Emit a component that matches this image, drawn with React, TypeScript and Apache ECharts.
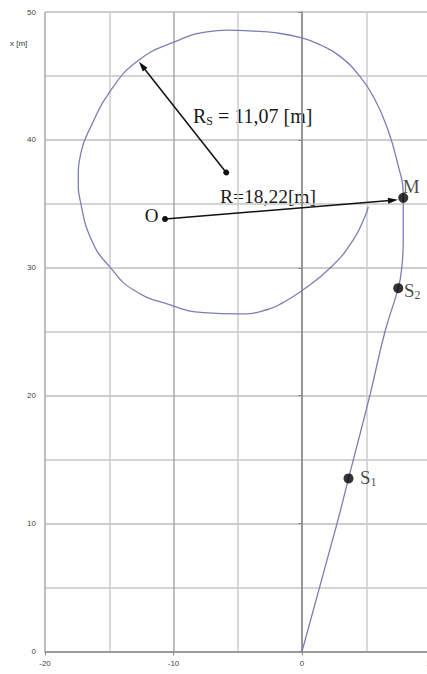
import React, { useEffect, useRef } from 'react';
import * as echarts from 'echarts';

// Trajectory (horizontal in [m], vertical "x [m]")
const pathX = [0, 2.75, 3.62, 5.29, 6.46, 7.49, 7.76, 7.88, 7.88, 7.37, 6.59, 5.68, 4.51, 2.96, 1.4, 0, -1.95, -4.05, -5.8, -7.4, -9.88, -12.74, -14.94, -16.35, -17.2, -17.41, -17.22, -16.3, -14.94, -13.13, -10.27, -7.68, -4.82, -2.75, -1.45, -0.16, 2.31, 3.99, 4.9, 5.16];
const pathY = [0, 10.1, 13.53, 20.06, 25.02, 28.41, 29.98, 32.19, 35.47, 38.45, 41.05, 43.14, 44.96, 46.53, 47.44, 47.97, 48.36, 48.52, 48.58, 48.45, 47.68, 46.2, 43.8, 41.2, 39.0, 36.9, 35.06, 32.0, 30.05, 28.28, 27.1, 26.5, 26.4, 26.72, 27.3, 28.1, 30.1, 32.19, 34.01, 34.79];

const markerNames = ['S1', 'S2', 'M'];
const markerX = [3.62, 7.49, 7.88];
const markerY = [13.53, 28.41, 35.47];

const originPoint = [-10.66, 33.81];
const radiusArrowEnd = [7.08, 35.28];
const centerPoint = [-5.9, 37.45];
const rsArrowEnd = [-12.45, 45.8];

const xMin = -20;
const xMax = 10;
const yMin = 0;
const yMax = 50;
const tickStep = 10;

const serif = "'Liberation Serif', 'Times New Roman', serif";
const sans = "'Liberation Sans', Arial, sans-serif";

export default function App() {
  const ref = useRef<HTMLDivElement>(null);
  useEffect(() => {
    if (!ref.current) return;
    const chart = echarts.init(ref.current, undefined, { renderer: 'svg' });
    const labelRich = {
      b: { fontSize: 19, fontFamily: serif, color: '#1a1a1a' },
      s: { fontSize: 12, fontFamily: serif, color: '#1a1a1a', padding: [9, 0, 0, 0] },
    };
    const labelPos: Record<string, number[]> = {
      S1: [16.5, 4],
      S2: [10.7, 7],
      M: [4.5, -6.5],
    };
    chart.setOption({
      animation: false,
      backgroundColor: '#ffffff',
      grid: { left: 45, top: 12, width: 385.5, height: 639.5, outerBoundsMode: 'none', containLabel: false },
      xAxis: {
        type: 'value',
        min: xMin,
        max: xMax,
        interval: tickStep,
        axisLine: { show: true, lineStyle: { color: '#8a8a8a', width: 1.5 } },
        axisTick: { show: true, length: 4, lineStyle: { color: '#8a8a8a' } },
        axisLabel: { fontSize: 8, color: '#444', margin: 8, fontFamily: sans },
        splitLine: { show: true, lineStyle: { color: '#a8a8a8', width: 1.5 } },
        minorTick: { show: false, splitNumber: 2 },
        minorSplitLine: { show: true, lineStyle: { color: '#cdcdcd', width: 1.5 } },
      },
      yAxis: {
        type: 'value',
        min: yMin,
        max: yMax,
        interval: tickStep,
        axisLine: { show: true, lineStyle: { color: '#8a8a8a', width: 1.5 } },
        axisTick: { show: true, length: 4, lineStyle: { color: '#8a8a8a' } },
        axisLabel: { fontSize: 8, color: '#444', margin: 9, fontFamily: sans },
        splitLine: { show: true, lineStyle: { color: '#bdbdbd', width: 1.5 } },
        minorTick: { show: false, splitNumber: 2 },
        minorSplitLine: { show: true, lineStyle: { color: '#c6c6c6', width: 1.5 } },
      },
      graphic: [
        { type: 'text', left: 10, top: 39, style: { text: 'x [m]', fontSize: 8, fill: '#333', fontFamily: sans } },
        {
          type: 'text', x: 193, y: 116,
          style: {
            text: '{a|R}{s|S}{a| = 11,07 [m]}',
            verticalAlign: 'middle',
            rich: {
              a: { fontSize: 20, fontFamily: serif, fill: '#1a1a1a', color: '#1a1a1a' },
              s: { fontSize: 12, fontFamily: serif, fill: '#1a1a1a', color: '#1a1a1a', padding: [9, 0, 0, 0] },
            },
          },
        },
        { type: 'text', x: 220, y: 196.5, style: { text: 'R=18,22[m]', fontSize: 19.5, fontFamily: serif, fill: '#1a1a1a', verticalAlign: 'middle' } },
        { type: 'text', x: 158.5, y: 215, style: { text: 'O', fontSize: 19, fontFamily: serif, fill: '#1a1a1a', align: 'right', verticalAlign: 'middle' } },
      ],
      series: [
        {
          type: 'line',
          data: pathX.map((x, i) => [x, pathY[i]]),
          smooth: 0.5,
          showSymbol: false,
          lineStyle: { color: '#7d7db5', width: 1.3 },
          silent: true,
          markLine: {
            silent: true,
            animation: false,
            label: { show: false },
            lineStyle: { color: '#111', width: 1.5, type: 'solid' },
            symbol: ['circle', 'triangle'],
            symbolSize: [6, 10],
            data: [
              [{ coord: originPoint }, { coord: radiusArrowEnd }],
              [{ coord: centerPoint }, { coord: rsArrowEnd }],
            ],
          },
        },
        {
          type: 'scatter',
          data: markerNames.map((n, i) => ({
            name: n,
            value: [markerX[i], markerY[i]],
            label: {
              show: true,
              position: labelPos[n],
              align: 'left',
              verticalAlign: 'middle',
              formatter: n === 'M' ? '{b|M}' : `{b|S}{s|${n.slice(1)}}`,
              rich: labelRich,
            },
          })),
          symbol: 'circle',
          symbolSize: 10,
          itemStyle: { color: '#000' },
          silent: true,
          z: 5,
        },
      ],
    });
    return () => chart.dispose();
  }, []);
  return (
    <div
      ref={ref}
      style={{ position: 'fixed', left: 0, top: 0, width: 427, height: 674, background: '#fff' }}
    />
  );
}
